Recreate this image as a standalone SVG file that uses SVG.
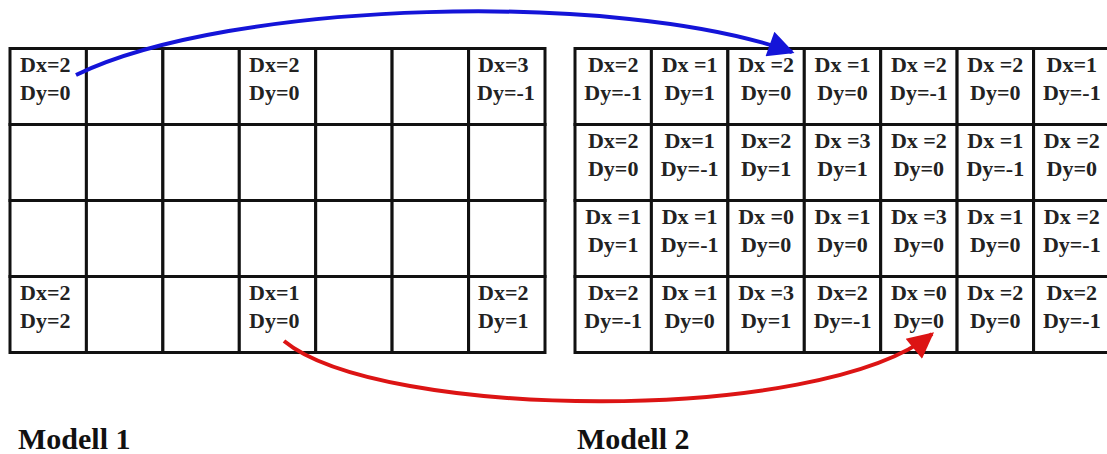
<svg xmlns="http://www.w3.org/2000/svg" width="1107" height="454" viewBox="0 0 1107 454">
<style>
.c{fill:#fff;stroke:#111;stroke-width:3}
.t{font-family:"Liberation Serif","Times New Roman",serif;font-weight:bold;font-size:22px;fill:#222}
.l{text-anchor:start}
.m{text-anchor:middle}
.h{font-family:"Liberation Serif","Times New Roman",serif;font-weight:bold;font-size:30px;fill:#111}
.blue{fill:none;stroke:#1414d8;stroke-width:4}
.red{fill:none;stroke:#dc1414;stroke-width:4}
</style>
<defs>
<marker id="ab" viewBox="0 0 10 10" refX="9" refY="5" markerUnits="userSpaceOnUse" markerWidth="30" markerHeight="26" orient="auto"><path d="M0,0 L10,5 L0,10 Z" fill="#1414d8"/></marker>
<marker id="ar" viewBox="0 0 10 10" refX="9" refY="5" markerUnits="userSpaceOnUse" markerWidth="30" markerHeight="26" orient="auto"><path d="M0,0 L10,5 L0,10 Z" fill="#dc1414"/></marker>
</defs>
<rect width="1107" height="454" fill="#fff"/>
<!-- Modell 1 -->
<g id="modell1">
<g id="m1-r0c0"><rect class="c" x="10" y="48.5" width="76.4" height="76"/><text class="t l" x="20" y="72">Dx=2</text><text class="t l" x="20" y="100">Dy=0</text></g>
<g id="m1-r0c1"><rect class="c" x="86.4" y="48.5" width="76.4" height="76"/></g>
<g id="m1-r0c2"><rect class="c" x="162.9" y="48.5" width="76.4" height="76"/></g>
<g id="m1-r0c3"><rect class="c" x="239.3" y="48.5" width="76.4" height="76"/><text class="t l" x="249" y="72">Dx=2</text><text class="t l" x="249" y="100">Dy=0</text></g>
<g id="m1-r0c4"><rect class="c" x="315.7" y="48.5" width="76.4" height="76"/></g>
<g id="m1-r0c5"><rect class="c" x="392.1" y="48.5" width="76.4" height="76"/></g>
<g id="m1-r0c6"><rect class="c" x="468.6" y="48.5" width="76.4" height="76"/><text class="t l" x="478" y="72">Dx=3</text><text class="t l" x="477" y="100">Dy=-1</text></g>
<g id="m1-r1c0"><rect class="c" x="10" y="124.5" width="76.4" height="76"/></g>
<g id="m1-r1c1"><rect class="c" x="86.4" y="124.5" width="76.4" height="76"/></g>
<g id="m1-r1c2"><rect class="c" x="162.9" y="124.5" width="76.4" height="76"/></g>
<g id="m1-r1c3"><rect class="c" x="239.3" y="124.5" width="76.4" height="76"/></g>
<g id="m1-r1c4"><rect class="c" x="315.7" y="124.5" width="76.4" height="76"/></g>
<g id="m1-r1c5"><rect class="c" x="392.1" y="124.5" width="76.4" height="76"/></g>
<g id="m1-r1c6"><rect class="c" x="468.6" y="124.5" width="76.4" height="76"/></g>
<g id="m1-r2c0"><rect class="c" x="10" y="200.5" width="76.4" height="76"/></g>
<g id="m1-r2c1"><rect class="c" x="86.4" y="200.5" width="76.4" height="76"/></g>
<g id="m1-r2c2"><rect class="c" x="162.9" y="200.5" width="76.4" height="76"/></g>
<g id="m1-r2c3"><rect class="c" x="239.3" y="200.5" width="76.4" height="76"/></g>
<g id="m1-r2c4"><rect class="c" x="315.7" y="200.5" width="76.4" height="76"/></g>
<g id="m1-r2c5"><rect class="c" x="392.1" y="200.5" width="76.4" height="76"/></g>
<g id="m1-r2c6"><rect class="c" x="468.6" y="200.5" width="76.4" height="76"/></g>
<g id="m1-r3c0"><rect class="c" x="10" y="276.5" width="76.4" height="76"/><text class="t l" x="20" y="300">Dx=2</text><text class="t l" x="20" y="328">Dy=2</text></g>
<g id="m1-r3c1"><rect class="c" x="86.4" y="276.5" width="76.4" height="76"/></g>
<g id="m1-r3c2"><rect class="c" x="162.9" y="276.5" width="76.4" height="76"/></g>
<g id="m1-r3c3"><rect class="c" x="239.3" y="276.5" width="76.4" height="76"/><text class="t l" x="249" y="300">Dx=1</text><text class="t l" x="249" y="328">Dy=0</text></g>
<g id="m1-r3c4"><rect class="c" x="315.7" y="276.5" width="76.4" height="76"/></g>
<g id="m1-r3c5"><rect class="c" x="392.1" y="276.5" width="76.4" height="76"/></g>
<g id="m1-r3c6"><rect class="c" x="468.6" y="276.5" width="76.4" height="76"/><text class="t l" x="478" y="300">Dx=2</text><text class="t l" x="478" y="328">Dy=1</text></g>
</g>
<!-- Modell 2 -->
<g id="modell2">
<g id="m2-r0c0"><rect class="c" x="575" y="48.5" width="76.4" height="76"/><text class="t m" x="613.2" y="72">Dx=2</text><text class="t m" x="613.2" y="100">Dy=-1</text></g>
<g id="m2-r0c1"><rect class="c" x="651.4" y="48.5" width="76.4" height="76"/><text class="t m" x="689.6" y="72">Dx =1</text><text class="t m" x="689.6" y="100">Dy=1</text></g>
<g id="m2-r0c2"><rect class="c" x="727.9" y="48.5" width="76.4" height="76"/><text class="t m" x="766.1" y="72">Dx =2</text><text class="t m" x="766.1" y="100">Dy=0</text></g>
<g id="m2-r0c3"><rect class="c" x="804.3" y="48.5" width="76.4" height="76"/><text class="t m" x="842.5" y="72">Dx =1</text><text class="t m" x="842.5" y="100">Dy=0</text></g>
<g id="m2-r0c4"><rect class="c" x="880.7" y="48.5" width="76.4" height="76"/><text class="t m" x="918.9" y="72">Dx =2</text><text class="t m" x="918.9" y="100">Dy=-1</text></g>
<g id="m2-r0c5"><rect class="c" x="957.1" y="48.5" width="76.4" height="76"/><text class="t m" x="995.3" y="72">Dx =2</text><text class="t m" x="995.3" y="100">Dy=0</text></g>
<g id="m2-r0c6"><rect class="c" x="1033.6" y="48.5" width="76.4" height="76"/><text class="t m" x="1071.8" y="72">Dx=1</text><text class="t m" x="1071.8" y="100">Dy=-1</text></g>
<g id="m2-r1c0"><rect class="c" x="575" y="124.5" width="76.4" height="76"/><text class="t m" x="613.2" y="148">Dx=2</text><text class="t m" x="613.2" y="176">Dy=0</text></g>
<g id="m2-r1c1"><rect class="c" x="651.4" y="124.5" width="76.4" height="76"/><text class="t m" x="689.6" y="148">Dx=1</text><text class="t m" x="689.6" y="176">Dy=-1</text></g>
<g id="m2-r1c2"><rect class="c" x="727.9" y="124.5" width="76.4" height="76"/><text class="t m" x="766.1" y="148">Dx=2</text><text class="t m" x="766.1" y="176">Dy=1</text></g>
<g id="m2-r1c3"><rect class="c" x="804.3" y="124.5" width="76.4" height="76"/><text class="t m" x="842.5" y="148">Dx =3</text><text class="t m" x="842.5" y="176">Dy=1</text></g>
<g id="m2-r1c4"><rect class="c" x="880.7" y="124.5" width="76.4" height="76"/><text class="t m" x="918.9" y="148">Dx =2</text><text class="t m" x="918.9" y="176">Dy=0</text></g>
<g id="m2-r1c5"><rect class="c" x="957.1" y="124.5" width="76.4" height="76"/><text class="t m" x="995.3" y="148">Dx =1</text><text class="t m" x="995.3" y="176">Dy=-1</text></g>
<g id="m2-r1c6"><rect class="c" x="1033.6" y="124.5" width="76.4" height="76"/><text class="t m" x="1071.8" y="148">Dx =2</text><text class="t m" x="1071.8" y="176">Dy=0</text></g>
<g id="m2-r2c0"><rect class="c" x="575" y="200.5" width="76.4" height="76"/><text class="t m" x="613.2" y="224">Dx =1</text><text class="t m" x="613.2" y="252">Dy=1</text></g>
<g id="m2-r2c1"><rect class="c" x="651.4" y="200.5" width="76.4" height="76"/><text class="t m" x="689.6" y="224">Dx =1</text><text class="t m" x="689.6" y="252">Dy=-1</text></g>
<g id="m2-r2c2"><rect class="c" x="727.9" y="200.5" width="76.4" height="76"/><text class="t m" x="766.1" y="224">Dx =0</text><text class="t m" x="766.1" y="252">Dy=0</text></g>
<g id="m2-r2c3"><rect class="c" x="804.3" y="200.5" width="76.4" height="76"/><text class="t m" x="842.5" y="224">Dx =1</text><text class="t m" x="842.5" y="252">Dy=0</text></g>
<g id="m2-r2c4"><rect class="c" x="880.7" y="200.5" width="76.4" height="76"/><text class="t m" x="918.9" y="224">Dx =3</text><text class="t m" x="918.9" y="252">Dy=0</text></g>
<g id="m2-r2c5"><rect class="c" x="957.1" y="200.5" width="76.4" height="76"/><text class="t m" x="995.3" y="224">Dx =1</text><text class="t m" x="995.3" y="252">Dy=0</text></g>
<g id="m2-r2c6"><rect class="c" x="1033.6" y="200.5" width="76.4" height="76"/><text class="t m" x="1071.8" y="224">Dx =2</text><text class="t m" x="1071.8" y="252">Dy=-1</text></g>
<g id="m2-r3c0"><rect class="c" x="575" y="276.5" width="76.4" height="76"/><text class="t m" x="613.2" y="300">Dx=2</text><text class="t m" x="613.2" y="328">Dy=-1</text></g>
<g id="m2-r3c1"><rect class="c" x="651.4" y="276.5" width="76.4" height="76"/><text class="t m" x="689.6" y="300">Dx =1</text><text class="t m" x="689.6" y="328">Dy=0</text></g>
<g id="m2-r3c2"><rect class="c" x="727.9" y="276.5" width="76.4" height="76"/><text class="t m" x="766.1" y="300">Dx =3</text><text class="t m" x="766.1" y="328">Dy=1</text></g>
<g id="m2-r3c3"><rect class="c" x="804.3" y="276.5" width="76.4" height="76"/><text class="t m" x="842.5" y="300">Dx=2</text><text class="t m" x="842.5" y="328">Dy=-1</text></g>
<g id="m2-r3c4"><rect class="c" x="880.7" y="276.5" width="76.4" height="76"/><text class="t m" x="918.9" y="300">Dx =0</text><text class="t m" x="918.9" y="328">Dy=0</text></g>
<g id="m2-r3c5"><rect class="c" x="957.1" y="276.5" width="76.4" height="76"/><text class="t m" x="995.3" y="300">Dx =2</text><text class="t m" x="995.3" y="328">Dy=0</text></g>
<g id="m2-r3c6"><rect class="c" x="1033.6" y="276.5" width="76.4" height="76"/><text class="t m" x="1071.8" y="300">Dx=2</text><text class="t m" x="1071.8" y="328">Dy=-1</text></g>
</g>
<g id="connectors">
<path class="blue" d="M76,75 C230,0 620,-10 792,52" marker-end="url(#ab)"/>
<path class="red" d="M284,341 C380,420 820,425 932,334" marker-end="url(#ar)"/>
</g>
<g id="labels">
<text class="h" x="18" y="449">Modell 1</text>
<text class="h" x="577" y="449">Modell 2</text>
</g>
</svg>
